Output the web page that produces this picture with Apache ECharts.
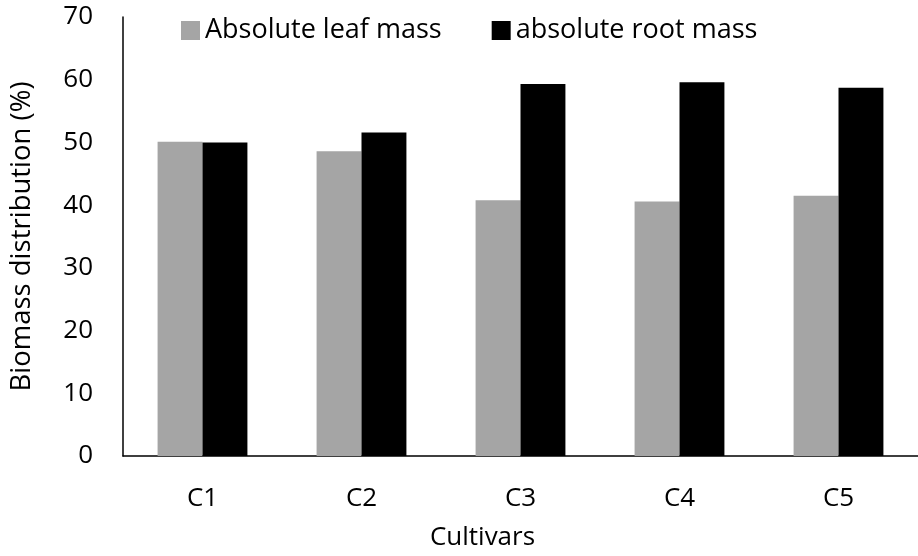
<!DOCTYPE html>
<html>
<head>
    <meta charset="UTF-8">
    <title>Biomass distribution</title>
    <script src="https://cdn.jsdelivr.net/npm/echarts@6/dist/echarts.min.js"></script>
    <style>
        body { margin: 0; }
        #chart { width: 918px; height: 556px; }
    </style>
</head>
<body>
    <div id="chart"></div>
    <script>
        var cultivars = ['C1', 'C2', 'C3', 'C4', 'C5'];
        var leafMass = [50.1, 48.6, 40.8, 40.6, 41.5];
        var rootMass = [50.0, 51.6, 59.3, 59.6, 58.7];
        var seriesNames = ['Absolute leaf mass', 'absolute root mass'];

        var font = 'Open Sans';
        var chart = echarts.init(document.getElementById('chart'));

        var option = {
            animation: false,
            textStyle: { fontFamily: font },
            legend: {
                left: 176,
                top: 12,
                itemWidth: 19,
                itemHeight: 19,
                itemGap: 50,
                icon: 'rect',
                textStyle: { fontSize: 27, color: '#000', fontFamily: font }
            },
            grid: { left: 122, right: 0, top: 17, bottom: 98, containLabel: false },
            xAxis: {
                type: 'category',
                data: cultivars,
                name: 'Cultivars',
                nameLocation: 'middle',
                nameGap: 69,
                // axis title sits a little left of the plot centre
                nameTextStyle: { fontSize: 26, color: '#000', padding: [0, 76, 0, 0] },
                axisLine: { lineStyle: { color: '#000', width: 1.5 } },
                axisTick: { show: false },
                axisLabel: { fontSize: 26, color: '#000', margin: 30 }
            },
            yAxis: {
                type: 'value',
                min: 0,
                max: 70,
                interval: 10,
                name: 'Biomass distribution (%)',
                nameLocation: 'middle',
                nameGap: 87,
                nameTextStyle: { fontSize: 27.5, color: '#000' },
                axisLine: { show: true, lineStyle: { color: '#000', width: 1.5 } },
                axisTick: { show: false },
                splitLine: { show: false },
                axisLabel: { fontSize: 26, color: '#000', margin: 30 }
            },
            series: [
                {
                    name: seriesNames[0],
                    type: 'bar',
                    data: leafMass,
                    barGap: '0%',
                    barCategoryGap: '43.5%',
                    itemStyle: { color: '#a5a5a5' }
                },
                {
                    name: seriesNames[1],
                    type: 'bar',
                    data: rootMass,
                    itemStyle: { color: '#000000' }
                }
            ]
        };
        chart.setOption(option);
    </script>
</body>
</html>
